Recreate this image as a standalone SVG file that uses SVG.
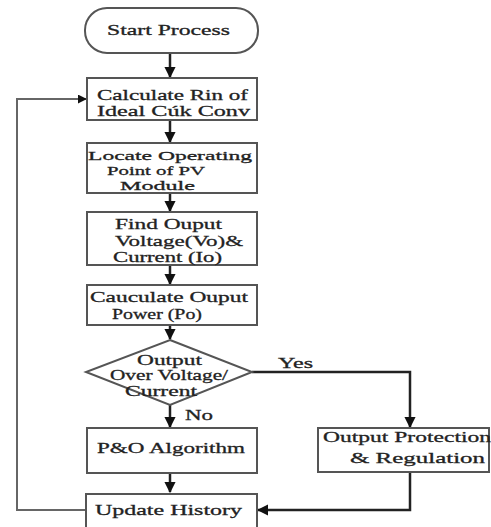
<svg xmlns="http://www.w3.org/2000/svg" width="491" height="527" viewBox="0 0 491 527">
<defs>
<style>
.box{fill:#fff;stroke:#555;stroke-width:2}
.t{font-family:"Liberation Serif","Times New Roman",serif;font-size:15px;fill:#222;stroke:#222;stroke-width:0.3}
.s{font-size:13.5px}
.c{fill:none;stroke:#222;stroke-width:2.5}
.f{fill:none;stroke:#666;stroke-width:2}
</style>
<marker id="ah" viewBox="0 0 10 10" refX="9" refY="5" markerWidth="4.5" markerHeight="4.5" orient="auto" markerUnits="strokeWidth">
<path d="M0,0 L10,5 L0,10 Z" fill="#111"/>
</marker>
</defs>
<rect width="491" height="527" fill="#fff"/>
<g id="connectors">
<path class="c" d="M170,53 V77" marker-end="url(#ah)"/>
<path class="c" d="M170,120 V142" marker-end="url(#ah)"/>
<path class="c" d="M170,193 V211" marker-end="url(#ah)"/>
<path class="c" d="M170,265 V284" marker-end="url(#ah)"/>
<path class="c" d="M170,325 V339" marker-end="url(#ah)"/>
<path class="c" d="M170,405 V427" marker-end="url(#ah)"/>
<path class="c" d="M170,473 V492" marker-end="url(#ah)"/>
<path class="c" d="M252,372 H410 V427" marker-end="url(#ah)"/>
<path class="c" d="M410,472 V510 H258" marker-end="url(#ah)"/>
<path class="f" d="M85,510 H17 V99 H86" marker-end="url(#ah)"/>
<text class="t" x="278" y="368" textLength="35" lengthAdjust="spacingAndGlyphs">Yes</text>
<text class="t" x="185" y="420" textLength="28" lengthAdjust="spacingAndGlyphs">No</text>
</g>
<g id="start">
<rect class="box" x="85" y="8" width="173" height="45" rx="22"/>
<text class="t" x="107" y="35" textLength="123" lengthAdjust="spacingAndGlyphs">Start Process</text>
</g>
<g id="calc-rin">
<rect class="box" x="87" y="78" width="170" height="42"/>
<text class="t" x="97" y="100" textLength="151" lengthAdjust="spacingAndGlyphs">Calculate Rin of</text>
<text class="t" x="97" y="116" textLength="153" lengthAdjust="spacingAndGlyphs">Ideal Cúk Conv</text>
</g>
<g id="locate">
<rect class="box" x="87" y="143" width="170" height="50"/>
<text class="t s" x="88" y="160" textLength="164" lengthAdjust="spacingAndGlyphs">Locate Operating</text>
<text class="t s" x="107" y="175" textLength="98" lengthAdjust="spacingAndGlyphs">Point of PV</text>
<text class="t s" x="120" y="190" textLength="75" lengthAdjust="spacingAndGlyphs">Module</text>
</g>
<g id="find-output">
<rect class="box" x="87" y="212" width="170" height="53"/>
<text class="t" x="115" y="229" textLength="107" lengthAdjust="spacingAndGlyphs">Find Ouput</text>
<text class="t" x="115" y="246" textLength="128" lengthAdjust="spacingAndGlyphs">Voltage(Vo)&amp;</text>
<text class="t" x="113" y="262" textLength="109" lengthAdjust="spacingAndGlyphs">Current (Io)</text>
</g>
<g id="calc-power">
<rect class="box" x="87" y="285" width="170" height="40"/>
<text class="t" x="90" y="302" textLength="158" lengthAdjust="spacingAndGlyphs">Cauculate Ouput</text>
<text class="t" x="112" y="319" textLength="90" lengthAdjust="spacingAndGlyphs">Power (Po)</text>
</g>
<g id="decision">
<polygon class="box" points="170,340 252,372 170,405 86,372"/>
<text class="t" x="137" y="365" textLength="65" lengthAdjust="spacingAndGlyphs">Output</text>
<text class="t" x="110" y="380" textLength="118" lengthAdjust="spacingAndGlyphs">Over Voltage/</text>
<text class="t" x="125" y="396" textLength="72" lengthAdjust="spacingAndGlyphs">Current</text>
</g>
<g id="po">
<rect class="box" x="87" y="428" width="170" height="45"/>
<text class="t" x="97" y="453" textLength="148" lengthAdjust="spacingAndGlyphs">P&amp;O Algorithm</text>
</g>
<g id="protection">
<rect class="box" x="318" y="428" width="171" height="44"/>
<text class="t" x="323" y="442" textLength="168" lengthAdjust="spacingAndGlyphs">Output Protection</text>
<text class="t" x="350" y="463" textLength="135" lengthAdjust="spacingAndGlyphs">&amp; Regulation</text>
</g>
<g id="update">
<rect class="box" x="86" y="494" width="171" height="40"/>
<text class="t" x="95" y="515" textLength="147" lengthAdjust="spacingAndGlyphs">Update History</text>
</g>
</svg>
